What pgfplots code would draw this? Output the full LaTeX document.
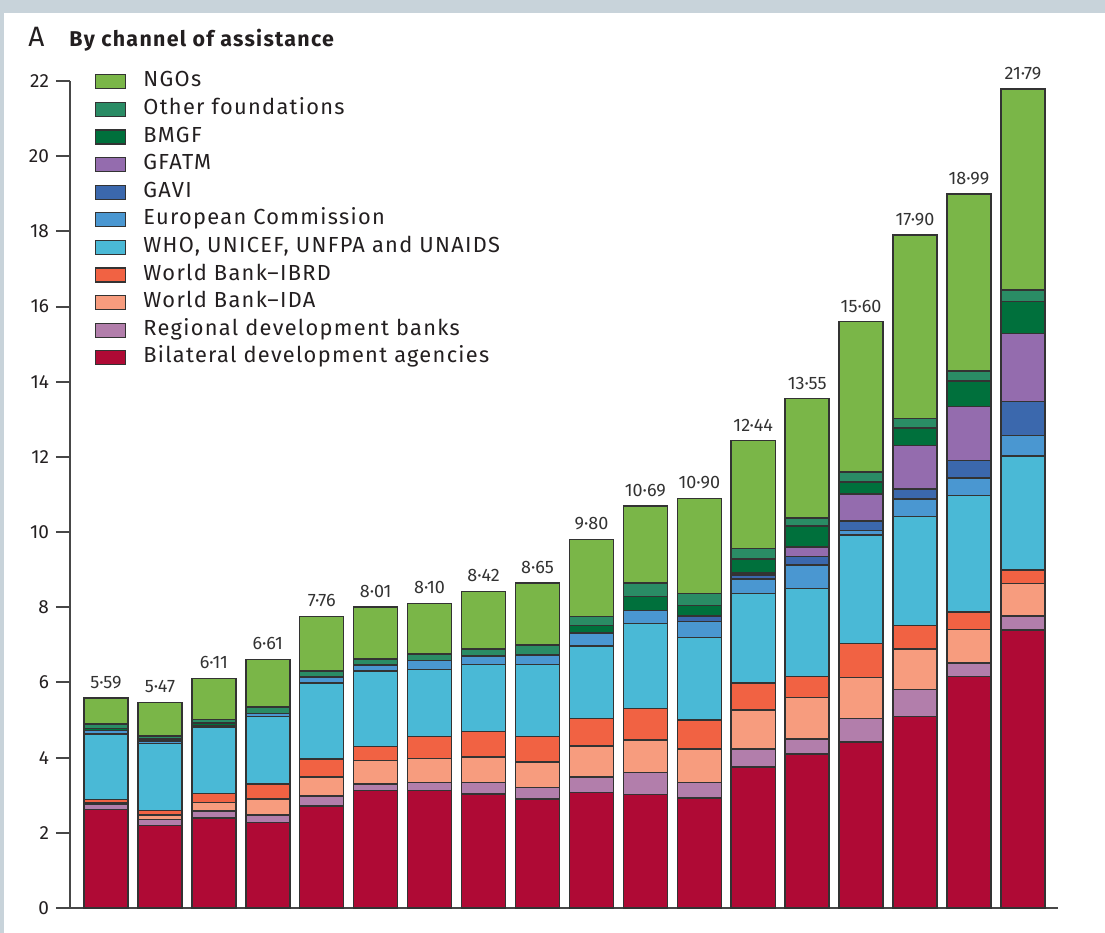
\documentclass[border=0pt]{standalone}
\usepackage{pgfplots}
\pgfplotsset{compat=1.18}
\usepackage{pgfplotstable}
\usepackage{fontspec}
\setmainfont{Fira Sans}[LetterSpace=6]
\newfontfamily\numfont{Fira Sans}

\definecolor{ngo}{HTML}{7AB648}
\definecolor{oth}{HTML}{2A8C65}
\definecolor{bmgf}{HTML}{00703C}
\definecolor{gfatm}{HTML}{946CAE}
\definecolor{gavi}{HTML}{3B68AD}
\definecolor{ec}{HTML}{4A97D1}
\definecolor{who}{HTML}{4AB9D6}
\definecolor{ibrd}{HTML}{F16243}
\definecolor{ida}{HTML}{F79C7E}
\definecolor{reg}{HTML}{B27EAB}
\definecolor{bil}{HTML}{AF0A35}
\definecolor{outl}{HTML}{333333}
\definecolor{bgc}{HTML}{C8D3DA}
\definecolor{txt}{HTML}{231F20}

\pgfplotstableread{
x bil reg ida ibrd who ec gavi gfatm bmgf oth ngo tot lab
1 2.62 0.14 0.04 0.08 1.75 0.09 0 0 0.05 0.12 0.70 5.59 5·59
2 2.19 0.17 0.11 0.12 1.79 0.06 0 0 0.06 0.07 0.90 5.47 5·47
3 2.40 0.18 0.23 0.24 1.77 0.03 0 0 0.07 0.10 1.09 6.11 6·11
4 2.27 0.20 0.43 0.40 1.79 0.09 0 0 0 0.17 1.26 6.61 6·61
5 2.72 0.26 0.50 0.48 2.03 0.16 0 0 0 0.15 1.46 7.76 7·76
6 3.12 0.18 0.62 0.37 2.01 0.16 0 0 0 0.16 1.39 8.01 8·01
7 3.12 0.22 0.64 0.58 1.79 0.23 0 0 0 0.18 1.34 8.10 8·10
8 3.03 0.31 0.68 0.67 1.79 0.22 0 0 0 0.19 1.53 8.42 8·42
9 2.90 0.31 0.68 0.67 1.92 0.25 0 0 0 0.26 1.66 8.65 8·65
10 3.07 0.42 0.82 0.73 1.93 0.35 0 0 0.19 0.24 2.05 9.80 9·80
11 3.02 0.59 0.86 0.84 2.26 0.34 0 0 0.37 0.36 2.05 10.69 10·69
12 2.93 0.41 0.89 0.77 2.19 0.43 0.15 0 0.28 0.31 2.54 10.90 10·90
13 3.75 0.48 1.04 0.71 2.38 0.39 0.11 0.05 0.38 0.27 2.88 12.44 12·44
14 4.10 0.39 1.11 0.56 2.34 0.62 0.23 0.25 0.56 0.22 3.17 13.55 13·55
15 4.42 0.62 1.09 0.90 2.89 0.12 0.25 0.72 0.32 0.27 4.00 15.60 15·60
16 5.10 0.71 1.08 0.62 2.91 0.46 0.26 1.17 0.46 0.25 4.88 17.90 17·90
17 6.16 0.36 0.89 0.46 3.10 0.47 0.46 1.44 0.68 0.27 4.70 18.99 18·99
18 7.39 0.38 0.86 0.36 3.04 0.54 0.91 1.80 0.85 0.31 5.35 21.79 21·79
}\data

\pgfplotsset{common/.style={
  at={(0,0)}, anchor=south west,
  scale only axis, width=494pt, height=413.5pt,
  xmin=0.333, xmax=18.65, ymin=0, ymax=22,
  enlargelimits=false, clip=false, bar width=0.816}}

\begin{document}
\begin{tikzpicture}[x=1pt,y=1pt]
% px -> pt : X -> 0.5*(X-70), Y -> 0.5*(908-Y)
\fill[bgc] (-35,454) rectangle (517.5,-12.5);
\fill[white] (-33,447.5) rectangle (517.5,-12.5);
\node[anchor=base west, inner sep=0pt, text=txt, font=\numfont\fontsize{14}{16}\selectfont] at (-21,430.5) {A};
\node[anchor=base west, inner sep=0pt, text=txt, font=\bfseries\fontsize{10.7}{12}\selectfont] at (-0.5,430.5) {By channel of assistance};
\begin{axis}[common,
  ybar stacked,
  axis lines*=left,
  axis line style={draw=outl!90, line width=1pt},
  xtick=\empty,
  ytick={0,2,...,22},
  tick align=outside,
  major tick length=7pt,
  every tick/.style={draw=outl!90, line width=1pt},
  tick label style={font=\numfont\fontsize{9.5}{11}\selectfont, text=txt},
  /pgf/number format/assume math mode=true,
  every axis plot/.append style={draw=outl, line width=0.75pt},
  every axis plot post/.append style={legend image code/.code={\draw[#1, line width=0.6pt] (0pt,-3.5pt) rectangle (15pt,3.5pt);}},
  reverse legend,
  legend cell align=left,
  legend style={draw=none, fill=none, at={(0.0184,1.0164)}, anchor=north west,
    font=\fontsize{10.9}{12}\selectfont, text=txt, row sep=3.8pt,
    nodes={inner sep=0pt, text height=7.5pt, text depth=2.5pt},
    /tikz/every odd column/.append style={column sep=8.8pt}},
]
\addplot[fill=bil] table[x=x,y=bil]{\data}; \addlegendentry{Bilateral development agencies}
\addplot[fill=reg] table[x=x,y=reg]{\data}; \addlegendentry{Regional development banks}
\addplot[fill=ida] table[x=x,y=ida]{\data}; \addlegendentry{World Bank–IDA}
\addplot[fill=ibrd] table[x=x,y=ibrd]{\data}; \addlegendentry{World Bank–IBRD}
\addplot[fill=who] table[x=x,y=who]{\data}; \addlegendentry{WHO, UNICEF, UNFPA and UNAIDS}
\addplot[fill=ec] table[x=x,y=ec]{\data}; \addlegendentry{European Commission}
\addplot[fill=gavi] table[x=x,y=gavi]{\data}; \addlegendentry{GAVI}
\addplot[fill=gfatm] table[x=x,y=gfatm]{\data}; \addlegendentry{GFATM}
\addplot[fill=bmgf] table[x=x,y=bmgf]{\data}; \addlegendentry{BMGF}
\addplot[fill=oth] table[x=x,y=oth]{\data}; \addlegendentry{Other foundations}
\addplot[fill=ngo] table[x=x,y=ngo]{\data}; \addlegendentry{NGOs}
\end{axis}
\begin{axis}[common, ybar, hide axis]
\addplot[draw=outl, line width=0.75pt, fill=none, point meta=explicit symbolic,
  nodes near coords,
  every node near coord/.append style={font=\numfont\fontsize{9}{10}\selectfont, text=outl, anchor=south, inner sep=4.3pt}]
  table[x=x,y=tot,meta=lab]{\data};
\end{axis}
\end{tikzpicture}
\end{document}
